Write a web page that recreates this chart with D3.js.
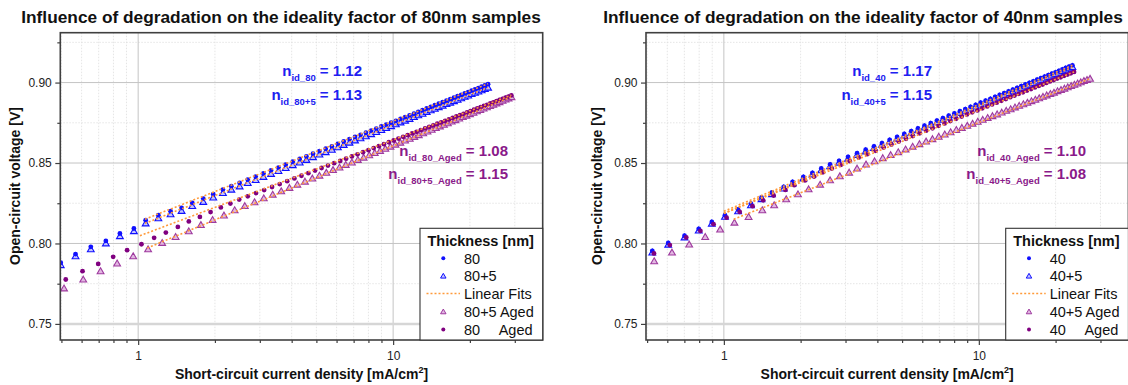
<!DOCTYPE html>
<html><head><meta charset="utf-8">
<script src="https://cdn.jsdelivr.net/npm/d3@7"></script>
<style>
body{margin:0;background:#fff}
svg{display:block;font-family:"Liberation Sans",Arial,Helvetica,sans-serif}
text{white-space:pre}
</style>
</head><body>
<svg id="c" width="1128" height="385"></svg>
<script>
// ---------- tick values ----------
const xTicksMajor = [1, 10];
const xTicksMinor = [0.5,0.6,0.7,0.8,0.9,2,3,4,5,6,7,8,9,20,30];
const yTicksMajor = [0.75, 0.80, 0.85, 0.90];
const yTicksMinor = [0.775, 0.825, 0.875, 0.925];

// ---------- LEFT : 80 nm ----------
const j80 = [0.497,0.568,0.652,0.747,0.848,0.962,1.07,1.20,1.34,1.48,1.63,1.80,1.97,2.15,2.32,2.50,2.69,2.89,3.10,3.32,3.55,3.79,4.04,4.30,4.57,4.85,5.14,5.44,5.75,6.07,6.40,6.74,7.09,7.45,7.82,8.20,8.59,8.99,9.40,9.82,10.25,10.69,11.14,11.60,12.07,12.55,13.04,13.54,14.05,14.57,15.10,15.64,16.19,16.75,17.32,17.90,18.49,19.09,19.70,20.32,20.95,21.59,22.24,22.90,23.57];
const v80 = [0.7880,0.7934,0.7979,0.8016,0.8062,0.8093,0.8145,0.8176,0.8201,0.8221,0.8252,0.8279,0.8306,0.8335,0.8356,0.8376,0.8397,0.8416,0.8435,0.8454,0.8472,0.8490,0.8508,0.8525,0.8541,0.8558,0.8574,0.8589,0.8604,0.8619,0.8634,0.8648,0.8662,0.8675,0.8688,0.8701,0.8714,0.8727,0.8739,0.8751,0.8762,0.8774,0.8785,0.8796,0.8807,0.8818,0.8828,0.8839,0.8849,0.8859,0.8869,0.8878,0.8888,0.8897,0.8906,0.8915,0.8924,0.8933,0.8941,0.8950,0.8958,0.8966,0.8974,0.8982,0.8990];
const v80p5 = [0.7866,0.7921,0.7964,0.8001,0.8046,0.8077,0.8125,0.8157,0.8182,0.8203,0.8233,0.8259,0.8286,0.8314,0.8335,0.8355,0.8376,0.8395,0.8414,0.8433,0.8451,0.8469,0.8487,0.8504,0.8520,0.8537,0.8553,0.8568,0.8583,0.8598,0.8613,0.8627,0.8641,0.8654,0.8667,0.8680,0.8693,0.8706,0.8718,0.8730,0.8741,0.8753,0.8764,0.8775,0.8786,0.8797,0.8807,0.8818,0.8828,0.8838,0.8848,0.8857,0.8867,0.8876,0.8885,0.8894,0.8903,0.8912,0.8920,0.8929,0.8937,0.8945,0.8953,0.8961,0.8969];
const j80A = [0.52,0.605,0.697,0.798,0.905,1.03,1.155,1.284,1.431,1.58,1.746,1.923,2.11,2.30,2.49,2.69,2.90,3.12,3.35,3.59,3.84,4.10,4.37,4.65,4.94,5.24,5.55,5.87,6.20,6.54,6.89,7.25,7.62,8.00,8.39,8.79,9.20,9.62,10.05,10.49,10.94,11.40,11.87,12.35,12.84,13.34,13.85,14.37,14.90,15.44,15.99,16.55,17.12,17.70,18.29,18.89,19.50,20.12,20.75,21.39,22.04,22.70,23.37,24.05,24.74,25.44,26.15,26.87,27.60,28.34,29.09];
const v80A = [0.7776,0.7828,0.7873,0.7917,0.7958,0.7995,0.8035,0.8068,0.8103,0.8137,0.8165,0.8195,0.8224,0.8248,0.8273,0.8293,0.8313,0.8332,0.8351,0.8369,0.8387,0.8404,0.8421,0.8437,0.8453,0.8469,0.8484,0.8499,0.8513,0.8527,0.8541,0.8554,0.8567,0.8580,0.8593,0.8605,0.8617,0.8629,0.8640,0.8652,0.8663,0.8673,0.8684,0.8694,0.8705,0.8715,0.8725,0.8734,0.8744,0.8753,0.8762,0.8771,0.8780,0.8789,0.8798,0.8806,0.8815,0.8823,0.8831,0.8839,0.8847,0.8855,0.8862,0.8870,0.8877,0.8885,0.8892,0.8899,0.8906,0.8913,0.8920];
const j80p5A = [0.512,0.609,0.712,0.827,0.956,1.094,1.242,1.402,1.58,1.762,1.958,2.17,2.39,2.62,2.86,3.11,3.37,3.64,3.92,4.21,4.51,4.82,5.14,5.47,5.81,6.16,6.52,6.89,7.27,7.66,8.06,8.47,8.89,9.32,9.76,10.21,10.67,11.14,11.62,12.11,12.61,13.12,13.64,14.17,14.71,15.26,15.82,16.39,16.97,17.56,18.16,18.77,19.39,20.02,20.66,21.31,21.97,22.64,23.32,24.01,24.71,25.42,26.14,26.87,27.61,28.36,29.12];
const v80p5A = [0.7721,0.7776,0.7828,0.7876,0.7921,0.7964,0.8004,0.8041,0.8076,0.8115,0.8147,0.8174,0.8207,0.8233,0.8257,0.8281,0.8304,0.8325,0.8346,0.8366,0.8385,0.8404,0.8422,0.8440,0.8457,0.8473,0.8489,0.8504,0.8520,0.8534,0.8549,0.8563,0.8576,0.8589,0.8602,0.8615,0.8627,0.8640,0.8651,0.8663,0.8674,0.8685,0.8696,0.8707,0.8718,0.8728,0.8738,0.8748,0.8758,0.8767,0.8777,0.8786,0.8795,0.8804,0.8813,0.8822,0.8830,0.8839,0.8847,0.8855,0.8863,0.8871,0.8879,0.8887,0.8895,0.8902,0.8910];
// linear fits: [start, end]
const fitJ80 = [1.063, 23.57],   fitV80 = [0.8151, 0.8993];
const fitJ80p5 = [1.063, 23.57], fitV80p5 = [0.8125, 0.8970];
const fitJ80A = [1.016, 29.09],  fitV80A = [0.8048, 0.8922];
const fitJ80p5A = [1.085, 29.12],fitV80p5A = [0.7972, 0.8912];

// ---------- RIGHT : 40 nm ----------
const j40 = [0.524,0.605,0.701,0.797,0.897,1.01,1.137,1.277,1.405,1.544,1.717,1.86,2.05,2.225,2.41,2.61,2.83,3.07,3.33,3.60,3.88,4.17,4.47,4.78,5.10,5.43,5.77,6.12,6.48,6.85,7.23,7.62,8.02,8.43,8.85,9.28,9.72,10.17,10.63,11.10,11.58,12.07,12.57,13.08,13.60,14.13,14.67,15.22,15.78,16.35,16.93,17.52,18.12,18.73,19.35,19.98,20.62,21.27,21.93,22.60,23.28];
const v40 = [0.7954,0.8003,0.8048,0.8091,0.8134,0.8176,0.8211,0.8248,0.8286,0.8317,0.8352,0.8383,0.8414,0.8439,0.8466,0.8491,0.8513,0.8538,0.8561,0.8583,0.8604,0.8624,0.8644,0.8662,0.8681,0.8698,0.8715,0.8732,0.8748,0.8764,0.8779,0.8794,0.8808,0.8822,0.8835,0.8849,0.8862,0.8875,0.8887,0.8899,0.8911,0.8923,0.8934,0.8945,0.8956,0.8967,0.8978,0.8988,0.8998,0.9008,0.9018,0.9027,0.9037,0.9046,0.9055,0.9064,0.9073,0.9082,0.9091,0.9099,0.9107];
const v40p5 = [0.7944,0.7993,0.8038,0.8081,0.8124,0.8166,0.8201,0.8238,0.8276,0.8307,0.8342,0.8373,0.8404,0.8429,0.8456,0.8481,0.8503,0.8528,0.8551,0.8573,0.8594,0.8614,0.8634,0.8652,0.8671,0.8688,0.8705,0.8722,0.8738,0.8754,0.8769,0.8784,0.8798,0.8812,0.8825,0.8839,0.8852,0.8865,0.8877,0.8889,0.8901,0.8913,0.8924,0.8935,0.8946,0.8957,0.8968,0.8978,0.8988,0.8998,0.9008,0.9017,0.9027,0.9036,0.9045,0.9054,0.9063,0.9072,0.9081,0.9089,0.9097];
const j40A = [0.532,0.614,0.712,0.809,0.911,1.025,1.154,1.296,1.426,1.567,1.743,1.888,2.081,2.258,2.446,2.649,2.872,3.116,3.38,3.65,3.94,4.23,4.54,4.85,5.18,5.51,5.86,6.21,6.58,6.95,7.34,7.73,8.14,8.56,8.98,9.42,9.87,10.32,10.79,11.27,11.75,12.25,12.76,13.28,13.80,14.34,14.89,15.45,16.02,16.60,17.18,17.78,18.39,19.01,19.64,20.28,20.93,21.59,22.26,22.94,23.63];
const v40A = [0.7938,0.7990,0.8037,0.8078,0.8120,0.8160,0.8196,0.8232,0.8268,0.8298,0.8333,0.8362,0.8392,0.8416,0.8442,0.8466,0.8488,0.8512,0.8534,0.8555,0.8576,0.8596,0.8615,0.8633,0.8651,0.8668,0.8685,0.8701,0.8716,0.8731,0.8746,0.8761,0.8775,0.8789,0.8802,0.8815,0.8827,0.8840,0.8852,0.8864,0.8875,0.8887,0.8898,0.8909,0.8919,0.8930,0.8940,0.8950,0.8960,0.8970,0.8979,0.8988,0.8998,0.9007,0.9016,0.9025,0.9033,0.9042,0.9050,0.9058,0.9066];
const j40p5A = [0.533,0.626,0.731,0.845,0.967,1.10,1.25,1.415,1.575,1.756,1.953,2.15,2.385,2.61,2.85,3.10,3.33,3.61,3.90,4.20,4.51,4.83,5.16,5.50,5.85,6.21,6.58,6.96,7.35,7.75,8.16,8.58,9.01,9.45,9.90,10.36,10.83,11.31,11.80,12.30,12.81,13.33,13.86,14.40,14.95,15.51,16.08,16.66,17.25,17.85,18.46,19.08,19.71,20.35,21.00,21.66,22.33,23.01,23.70,24.40,25.11,25.83,26.56,27.30];
const v40p5A = [0.7890,0.7944,0.7994,0.8041,0.8087,0.8130,0.8165,0.8207,0.8238,0.8275,0.8306,0.8337,0.8366,0.8393,0.8418,0.8441,0.8466,0.8491,0.8511,0.8531,0.8550,0.8568,0.8585,0.8602,0.8618,0.8634,0.8649,0.8664,0.8678,0.8692,0.8706,0.8719,0.8732,0.8745,0.8757,0.8769,0.8781,0.8792,0.8803,0.8814,0.8825,0.8835,0.8846,0.8856,0.8866,0.8875,0.8885,0.8894,0.8903,0.8912,0.8921,0.8930,0.8938,0.8947,0.8955,0.8963,0.8971,0.8979,0.8987,0.8995,0.9002,0.9010,0.9017,0.9024];
const fitJ40 = [1.0, 23.28],    fitV40 = [0.8200, 0.9107];
const fitJ40p5 = [1.0, 23.28],  fitV40p5 = [0.8188, 0.9095];
const fitJ40A = [1.0, 23.63],   fitV40A = [0.8186, 0.9066];
const fitJ40p5A = [1.093, 27.30], fitV40p5A = [0.8151, 0.9024];

// ---------- texts ----------
const titles = ["Influence of degradation on the ideality factor of 80nm samples",
                "Influence of degradation on the ideality factor of 40nm samples"];
const xLabel = "Short-circuit current density [mA/cm";
const yLabel = "Open-circuit voltage [V]";
const legendTitle = "Thickness [nm]";
const legendL = ["80", "80+5", "Linear Fits", "80+5 Aged", "80", "Aged"];
const legendR = ["40", "40+5", "Linear Fits", "40+5 Aged", "40", "Aged"];
const nLabelsL = [["id_80","1.12"],["id_80+5","1.13"],["id_80_Aged","1.08"],["id_80+5_Aged","1.15"]];
const nLabelsR = [["id_40","1.17"],["id_40+5","1.15"],["id_40_Aged","1.10"],["id_40+5_Aged","1.08"]];

// ---------- styles ----------
const C = {
  blue:"#1010ff", blueTriFill:"#c4c4ff", purple:"#800080",
  purpTri:"#9e3a9e", purpTriFill:"#e2b8e2", fit:"#ff9a3a",
  annBlue:"#2020f0", annPurple:"#8a1a8a", axis:"#404040"
};
const M = {l:60.3, r:542.7, t:32.7, b:340};
const svg = d3.select("#c");
svg.append("rect").attr("width",1128).attr("height",385).attr("fill","#fff");

function panel(P){
  const g = svg.append("g").attr("transform",`translate(${P.off},0)`);
  const x = d3.scaleLog().domain([0.495, 38.6]).range([M.l, M.r]);
  const y = d3.scaleLinear().domain([0.74, 0.931]).range([M.b, M.t]);

  // grid
  const grid = g.append("g");
  grid.selectAll(".gxm").data(xTicksMinor).join("line")
    .attr("x1",d=>x(d)).attr("x2",d=>x(d)).attr("y1",M.t).attr("y2",M.b)
    .attr("stroke","#dedede").attr("stroke-width",0.8).attr("stroke-dasharray","1.5,1.5");
  grid.selectAll(".gym").data(yTicksMinor).join("line")
    .attr("y1",d=>y(d)).attr("y2",d=>y(d)).attr("x1",M.l).attr("x2",M.r)
    .attr("stroke","#dedede").attr("stroke-width",0.8).attr("stroke-dasharray","1.5,1.5");
  grid.selectAll(".gxM").data(xTicksMajor).join("line")
    .attr("x1",d=>x(d)).attr("x2",d=>x(d)).attr("y1",M.t).attr("y2",M.b)
    .attr("stroke","#c4c4c4").attr("stroke-width",1);
  grid.selectAll(".gyM").data(yTicksMajor).join("line")
    .attr("y1",d=>y(d)).attr("y2",d=>y(d)).attr("x1",M.l).attr("x2",M.r)
    .attr("stroke",d=>d===0.75?"#d6d6d6":"#c4c4c4").attr("stroke-width",d=>d===0.75?2.5:1);

  // clip
  const cid = "clip"+P.off;
  g.append("clipPath").attr("id",cid).append("rect")
    .attr("x",M.l).attr("y",M.t).attr("width",M.r-M.l).attr("height",M.b-M.t);
  const data = g.append("g").attr("clip-path",`url(#${cid})`);
  const tri = d3.symbol().type(d3.symbolTriangle).size(20);

  function circles(xs, ys, col){
    data.append("g").selectAll("circle").data(d3.zip(xs,ys)).join("circle")
      .attr("cx",d=>x(d[0])).attr("cy",d=>y(d[1])).attr("r",2.4).attr("fill",col);
  }
  function triangles(xs, ys, stroke, fill){
    data.append("g").selectAll("path").data(d3.zip(xs,ys)).join("path")
      .attr("d",tri).attr("transform",d=>`translate(${x(d[0])},${y(d[1])+0.6})`)
      .attr("fill",fill).attr("stroke",stroke).attr("stroke-width",1.1);
  }
  triangles(P.s2x, P.s2y, C.blue, C.blueTriFill);
  circles(P.s1x, P.s1y, C.blue);
  triangles(P.s4x, P.s4y, C.purpTri, C.purpTriFill);
  circles(P.s5x, P.s5y, C.purple);

  // fits
  P.fits.forEach(f=>{
    data.append("line").attr("x1",x(f[0][0])).attr("x2",x(f[0][1]))
      .attr("y1",y(f[1][0])).attr("y2",y(f[1][1]))
      .attr("stroke",C.fit).attr("stroke-width",1.6).attr("stroke-dasharray","2,2");
  });

  // frame
  g.append("rect").attr("x",M.l).attr("y",M.t).attr("width",M.r-M.l).attr("height",M.b-M.t)
    .attr("fill","none").attr("stroke",C.axis).attr("stroke-width",1.6);

  // axes
  const styleAxis = s => { s.select(".domain").remove();
    s.selectAll("line").attr("stroke",C.axis).attr("stroke-width",1.2);
    s.selectAll("text").attr("fill","#222").attr("font-size",12).attr("font-family",null); };
  g.append("g").attr("transform",`translate(0,${M.b})`)
    .call(d3.axisBottom(x).tickValues(xTicksMajor).tickSize(5).tickPadding(6.5).tickFormat(d3.format("d")))
    .call(styleAxis);
  g.append("g").attr("transform",`translate(0,${M.b})`)
    .call(d3.axisBottom(x).tickValues(xTicksMinor).tickSize(3).tickFormat(""))
    .call(styleAxis);
  g.append("g").attr("transform",`translate(${M.l},0)`)
    .call(d3.axisLeft(y).tickValues(yTicksMajor).tickSize(5).tickPadding(3.5).tickFormat(d3.format(".2f")))
    .call(styleAxis);
  g.append("g").attr("transform",`translate(${M.l},0)`)
    .call(d3.axisLeft(y).tickValues(yTicksMinor).tickSize(3).tickFormat(""))
    .call(styleAxis);

  // labels
  svg.append("text").attr("x",281+P.lab).attr("y",23).attr("text-anchor","middle")
    .attr("font-size",17.3).attr("font-weight","bold").attr("fill","#111").text(P.title);
  const xl = g.append("text").attr("x",(M.l+M.r)/2).attr("y",378.5).attr("text-anchor","middle")
    .attr("font-size",14).attr("font-weight","bold").attr("fill","#111");
  xl.append("tspan").text(xLabel);
  xl.append("tspan").attr("dy",-5.5).attr("font-size",9).text("2");
  xl.append("tspan").attr("dy",5.5).text("]");
  svg.append("text").attr("transform",`translate(${20+P.lab},186) rotate(-90)`)
    .attr("text-anchor","middle").attr("font-size",14).attr("font-weight","bold")
    .attr("fill","#111").text(yLabel);

  // annotations
  P.ann.forEach(a=>{
    const t = svg.append("text").attr("x",a.x).attr("y",a.y).attr("text-anchor","end")
      .attr("font-weight","bold").attr("font-size",15).attr("fill",a.c);
    t.append("tspan").text("n");
    t.append("tspan").attr("dy",4.5).attr("font-size",9.5).text(a.t[0]);
    t.append("tspan").attr("dy",-4.5).text(" = "+a.t[1]);
  });

  // legend
  const lg = g.append("g");
  lg.append("rect").attr("x",420).attr("y",228.3).attr("width",M.r-420).attr("height",M.b-228.3)
    .attr("fill","#fff").attr("stroke","#333").attr("stroke-width",1.1);
  lg.append("text").attr("x",427.5).attr("y",245.5).attr("font-size",14.5).attr("font-weight","bold")
    .attr("fill","#111").text(legendTitle);
  const rows = [258.3, 276, 293.6, 311.7, 329.6];
  const L = P.legend;
  const tx = 464;
  [0,1,2,3].forEach(i=>{
    lg.append("text").attr("x",tx).attr("y",rows[i]+5.2).attr("font-size",14.5).attr("fill","#111").text(L[i]);
  });
  const tmp = lg.append("text").attr("font-size",14.5).text(L[3].split(" ")[0]+" ");
  const w = tmp.node().getComputedTextLength(); tmp.remove();
  lg.append("text").attr("x",tx).attr("y",rows[4]+5.2).attr("font-size",14.5).attr("fill","#111").text(L[4]);
  lg.append("text").attr("x",tx+w-2).attr("y",rows[4]+5.2).attr("font-size",14.5).attr("fill","#111").text(L[5]);
  const sx = 443.3;
  lg.append("circle").attr("cx",sx).attr("cy",rows[0]).attr("r",2).attr("fill",C.blue);
  lg.append("path").attr("d",d3.symbol().type(d3.symbolTriangle).size(13)).attr("transform",`translate(${sx},${rows[1]+0.5})`)
    .attr("fill",C.blueTriFill).attr("stroke",C.blue).attr("stroke-width",1);
  lg.append("line").attr("x1",426.5).attr("x2",460).attr("y1",rows[2]).attr("y2",rows[2])
    .attr("stroke",C.fit).attr("stroke-width",1.5).attr("stroke-dasharray","2,2");
  lg.append("path").attr("d",d3.symbol().type(d3.symbolTriangle).size(13)).attr("transform",`translate(${sx},${rows[3]+0.5})`)
    .attr("fill",C.purpTriFill).attr("stroke",C.purpTri).attr("stroke-width",1);
  lg.append("circle").attr("cx",sx).attr("cy",rows[4]).attr("r",2).attr("fill",C.purple);
}

panel({off:0, lab:0, title:titles[0], legend:legendL,
  s1x:j80, s1y:v80, s2x:j80, s2y:v80p5, s4x:j80p5A, s4y:v80p5A, s5x:j80A, s5y:v80A,
  fits:[[fitJ80,fitV80],[fitJ80p5,fitV80p5],[fitJ80A,fitV80A],[fitJ80p5A,fitV80p5A]],
  ann:[{x:362,y:76,c:C.annBlue,t:nLabelsL[0]},{x:362,y:100,c:C.annBlue,t:nLabelsL[1]},
       {x:508,y:156,c:C.annPurple,t:nLabelsL[2]},{x:508,y:179,c:C.annPurple,t:nLabelsL[3]}]});
panel({off:585.7, lab:582, title:titles[1], legend:legendR,
  s1x:j40, s1y:v40, s2x:j40, s2y:v40p5, s4x:j40p5A, s4y:v40p5A, s5x:j40A, s5y:v40A,
  fits:[[fitJ40,fitV40],[fitJ40p5,fitV40p5],[fitJ40A,fitV40A],[fitJ40p5A,fitV40p5A]],
  ann:[{x:932,y:76,c:C.annBlue,t:nLabelsR[0]},{x:932,y:100,c:C.annBlue,t:nLabelsR[1]},
       {x:1086,y:156,c:C.annPurple,t:nLabelsR[2]},{x:1086,y:179,c:C.annPurple,t:nLabelsR[3]}]});
</script>
</body></html>
